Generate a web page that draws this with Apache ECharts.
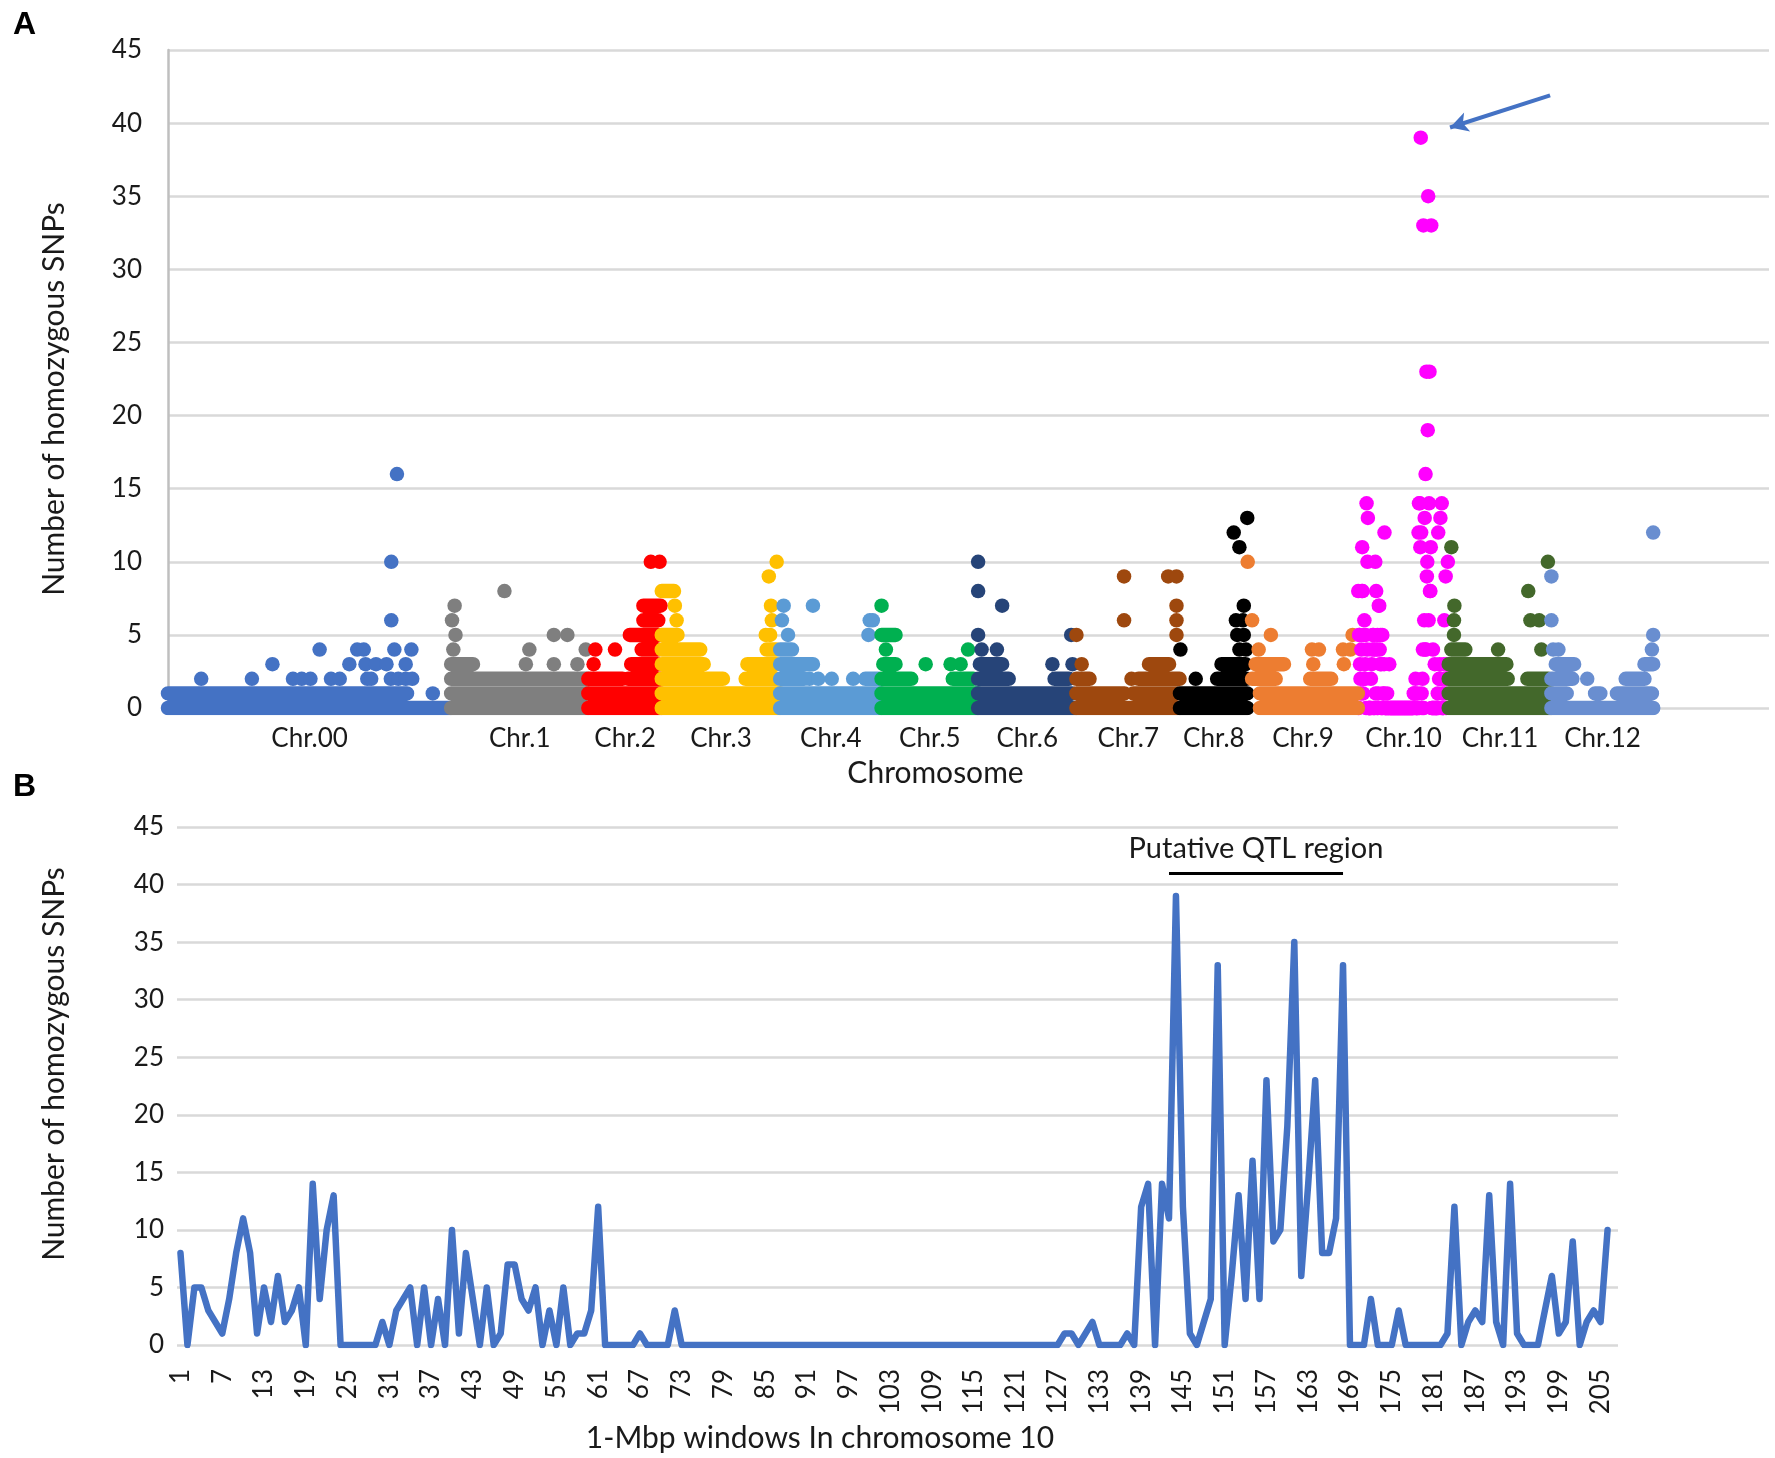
<!DOCTYPE html>
<html><head><meta charset="utf-8">
<script src="https://cdn.jsdelivr.net/npm/echarts@6/dist/echarts.min.js"></script>
<style>html,body{margin:0;padding:0;background:#fff}#c{width:1775px;height:1458px}</style>
</head><body><div id="c"></div>
<script>
// ---------- DATA ----------
const chromNames = ['Chr.00','Chr.1','Chr.2','Chr.3','Chr.4','Chr.5','Chr.6','Chr.7','Chr.8','Chr.9','Chr.10','Chr.11','Chr.12'];
const chromLengths = [648, 314, 168, 271, 232, 221, 225, 237, 155, 253, 207, 235, 234];
const yTicks = [0, 5, 10, 15, 20, 25, 30, 35, 40, 45];

// runs: [count, firstWindow, lastWindow] - consecutive windows that all show this count
// dots: [window, count]
const chr00Runs = [[0,0,647],[1,0,547]];
const chr00Dots = [[76,2],[192,2],[239,3],[286,2],[306,2],[326,2],[347,4],[373,2],[393,2],[415,3],[433,4],[448,4],[452,3],[456,2],[465,2],[476,3],[500,3],[510,2],[511,10],[511,6],[518,4],[524,16],[527,2],[544,3],[544,2],[557,4],[559,2],[606,1]];
const chr1Runs = [[0,0,313],[1,0,310],[2,0,310],[3,0,50]];
const chr1Dots = [[2,6],[5,4],[8,7],[10,5],[122,8],[171,3],[179,4],[235,5],[235,3],[266,5],[289,3],[308,4]];
const chr2Runs = [[0,0,167],[1,0,165],[2,0,78],[2,91,165],[3,98,158],[4,122,158],[5,95,160],[6,126,160],[7,126,165]];
const chr2Dots = [[12,3],[16,4],[61,4],[143,10],[163,10]];
const chr3Runs = [[0,0,270],[1,0,270],[2,0,140],[2,192,262],[3,0,96],[3,196,262],[4,0,88],[4,240,262],[5,0,36],[8,0,28]];
const chr3Dots = [[30,7],[34,6],[238,5],[245,9],[248,5],[250,7],[252,6],[263,10]];
const chr4Runs = [[0,0,231],[1,0,230],[2,0,55],[2,195,225],[3,0,75],[4,0,27]];
const chr4Dots = [[4,6],[8,7],[18,5],[67,2],[75,7],[87,2],[118,2],[167,2],[202,5],[205,6],[212,6]];
const chr5Runs = [[0,0,220],[1,0,220],[2,0,68],[2,163,210],[3,4,32],[5,0,32]];
const chr5Dots = [[0,7],[10,4],[101,3],[158,3],[181,3],[198,4]];
const chr6Runs = [[0,0,224],[1,0,215],[2,0,70],[2,175,208],[3,4,55]];
const chr6Dots = [[0,10],[0,8],[0,5],[8,4],[43,4],[55,7],[170,3],[213,5],[216,3]];
const chr7Runs = [[0,0,236],[1,0,110],[1,130,230],[2,0,30],[2,142,236],[3,166,212]];
const chr7Dots = [[0,5],[12,3],[109,9],[109,6],[126,2],[210,9],[229,9],[229,7],[229,6],[229,5]];
const chr8Runs = [[0,0,154],[1,0,154],[2,85,152],[3,95,150]];
const chr8Dots = [[1,4],[36,2],[123,12],[128,6],[131,5],[136,11],[136,4],[144,6],[146,7],[146,5],[151,4],[154,13]];
const chr9Runs = [[0,28,252],[1,28,252],[2,10,64],[2,143,191],[3,18,83]];
const chr9Dots = [[0,10],[10,6],[25,4],[53,5],[147,4],[150,3],[163,4],[218,4],[220,3],[235,4],[240,5]];
// chromosome 10: homozygous SNPs per 1-Mbp window (panel B, windows 1..206)
const chr10Counts = [
  8,0,5,5,3,2,1,4,8,11,
  8,1,5,2,6,2,3,5,0,14,
  4,10,13,0,0,0,0,0,0,2,
  0,3,4,5,0,5,0,4,0,10,
  1,8,4,0,5,0,1,7,7,4,
  3,5,0,3,0,5,0,1,1,3,
  12,0,0,0,0,0,1,0,0,0,
  0,3,0,0,0,0,0,0,0,0,
  0,0,0,0,0,0,0,0,0,0,
  0,0,0,0,0,0,0,0,0,0,
  0,0,0,0,0,0,0,0,0,0,
  0,0,0,0,0,0,0,0,0,0,
  0,0,0,0,0,0,0,1,1,0,
  1,2,0,0,0,0,1,0,12,14,
  0,14,11,39,12,1,0,2,4,33,
  0,6,13,4,16,4,23,9,10,19,
  35,6,14,23,8,8,11,33,0,0,
  0,4,0,0,0,3,0,0,0,0,
  0,0,1,12,0,2,3,2,13,2,
  0,14,1,0,0,0,3,6,1,2,
  9,0,2,3,2,10
];
const chr10WindowCount = 207;
const chr11Runs = [[0,0,234],[1,0,234],[2,0,135],[2,180,228],[3,0,132],[4,6,38]];
const chr11Dots = [[6,11],[12,6],[12,5],[13,7],[113,4],[182,8],[187,6],[207,6],[212,4],[227,10]];
const chr12Runs = [[0,0,233],[1,0,35],[1,100,112],[1,150,230],[2,0,48],[2,170,213],[3,10,52],[3,213,233]];
const chr12Dots = [[0,9],[0,6],[4,4],[16,4],[82,2],[230,4],[233,5],[233,12]];
const qtlWindows = ['143', '168'];
const qtlLabel = 'Putative QTL region';

// ---------- STYLE ----------
const chromColors = ['#4472C4','#7F7F7F','#FF0000','#FFC000','#5B9BD5','#00B050','#264478','#9E480E','#000000','#ED7D31','#FF00FF','#43682B','#698ED0'];
const FONT = 'Lato';
const TXT = '#1a1a1a';
const DOT = 14.5;
const GRID_C = '#d9d9d9';

// ---------- BUILD ----------
const runsByChrom = [chr00Runs,chr1Runs,chr2Runs,chr3Runs,chr4Runs,chr5Runs,chr6Runs,chr7Runs,chr8Runs,chr9Runs,null,chr11Runs,chr12Runs];
const dotsByChrom = [chr00Dots,chr1Dots,chr2Dots,chr3Dots,chr4Dots,chr5Dots,chr6Dots,chr7Dots,chr8Dots,chr9Dots,
  chr10Counts.map((v, i) => [i, v]), chr11Dots, chr12Dots];
const starts = [];
let acc = 0;
chromLengths.forEach(l => { starts.push(acc); acc += l; });
const centers = chromLengths.map((l, i) => starts[i] + l / 2);
const windowCats = Array.from({length: chr10WindowCount}, (_, i) => String(i + 1));

// arrow points at the chr10 maximum
const c10 = chromNames.indexOf('Chr.10');
const peakVal = Math.max(...chr10Counts);
const peakX = starts[c10] + chr10Counts.indexOf(peakVal);

const series = [];
chromNames.forEach((name, c) => {
  const s = starts[c];
  const runs = runsByChrom[c];
  if (runs) {
    series.push({
      type: 'line', name: name, xAxisIndex: 0, yAxisIndex: 0, silent: true,
      symbol: 'none', connectNulls: false, animation: false,
      data: runs.flatMap(([v, a, b]) => [[s + a, v], [s + b, v], [s + b, '-']]),
      lineStyle: {width: DOT, cap: 'round', join: 'round', color: chromColors[c]}
    });
  }
  const sc = {
    type: 'scatter', name: name, xAxisIndex: 0, yAxisIndex: 0, silent: true,
    symbolSize: DOT, animation: false,
    data: dotsByChrom[c].map(([o, v]) => [s + o, v]),
    itemStyle: {color: chromColors[c], opacity: 1}
  };
  if (c === c10) {
    sc.markLine = {
      silent: true, animation: false,
      symbol: ['none', 'arrow'], symbolSize: [15, 18],
      label: {show: false},
      lineStyle: {color: '#4472C4', width: 4, type: 'solid'},
      data: [[{coord: [peakX + 296, peakVal + 2.9]}, {coord: [peakX + 67, peakVal + 0.7]}]]
    };
  }
  series.push(sc);
});

series.push({
  type: 'line', name: 'Chr.10 windows', xAxisIndex: 1, yAxisIndex: 1, silent: true,
  data: chr10Counts, symbol: 'none', animation: false,
  lineStyle: {width: 6.5, color: '#4472C4', join: 'round', cap: 'round'},
  markLine: {
    silent: true, animation: false, symbol: 'none',
    lineStyle: {color: '#000', width: 3, type: 'solid'},
    label: {show: true, position: 'middle', formatter: qtlLabel, fontFamily: FONT, fontSize: 29, color: TXT, distance: 10},
    data: [[{coord: [qtlWindows[0], 41]}, {coord: [qtlWindows[1], 41]}]]
  }
});

const yAxisCommon = {
  type: 'value', min: 0, max: 45, interval: 5,
  axisTick: {show: false},
  splitLine: {show: true, lineStyle: {color: GRID_C, width: 2.5}},
  axisLabel: {fontFamily: FONT, fontSize: 26, color: TXT},
  name: 'Number of homozygous SNPs', nameLocation: 'middle', nameRotate: 90,
};

const option = {
  backgroundColor: '#fff',
  animation: false,
  grid: [
    {left: 168, right: 6, top: 50, bottom: 750},
    {left: 177, right: 157, top: 827, bottom: 113}
  ],
  xAxis: [
    {
      type: 'value', gridIndex: 0, min: 0, max: 3664,
      axisLine: {show: false}, axisTick: {show: false}, splitLine: {show: false},
      axisLabel: {
        customValues: centers, margin: 18, fontFamily: FONT, fontSize: 26, color: TXT,
        formatter: (v) => {
          let best = 0;
          centers.forEach((cv, i) => { if (Math.abs(cv - v) < Math.abs(centers[best] - v)) best = i; });
          return chromNames[best];
        }
      },
      name: 'Chromosome', nameLocation: 'middle', nameGap: 50,
      nameTextStyle: {fontFamily: FONT, fontSize: 30, color: TXT, padding: [0, 66, 0, 0]}
    },
    {
      type: 'category', gridIndex: 1, data: windowCats, boundaryGap: true,
      axisLine: {show: false}, axisTick: {show: false},
      axisLabel: {rotate: 90, interval: 5, margin: 24, fontFamily: FONT, fontSize: 26, color: TXT},
      name: '1-Mbp windows In chromosome 10', nameLocation: 'middle', nameGap: 78,
      nameTextStyle: {fontFamily: FONT, fontSize: 30, color: TXT, padding: [0, 155, 0, 0]}
    }
  ],
  yAxis: [
    Object.assign({}, yAxisCommon, {
      gridIndex: 0,
      axisLine: {show: true, lineStyle: {color: '#bfbfbf', width: 2.5}},
      axisLabel: Object.assign({}, yAxisCommon.axisLabel, {margin: 26}),
      nameGap: 99,
      nameTextStyle: {fontFamily: FONT, fontSize: 30, color: TXT, padding: [0, 40, 0, 0]}
    }),
    Object.assign({}, yAxisCommon, {
      gridIndex: 1,
      axisLine: {show: false},
      axisLabel: Object.assign({}, yAxisCommon.axisLabel, {margin: 13}),
      nameGap: 108,
      nameTextStyle: {fontFamily: FONT, fontSize: 30, color: TXT, padding: [0, 0, 0, 44]}
    })
  ],
  graphic: [
    {type: 'text', left: 13, top: 9, silent: true,
     style: {text: 'A', fontFamily: 'Liberation Sans', fontWeight: 'bold', fontSize: 32, fill: '#000'}},
    {type: 'text', left: 13, top: 771, silent: true,
     style: {text: 'B', fontFamily: 'Liberation Sans', fontWeight: 'bold', fontSize: 32, fill: '#000'}}
  ],
  series: series
};

const chart = echarts.init(document.getElementById('c'), null, {renderer: 'canvas'});
chart.setOption(option);
</script>
</body></html>
